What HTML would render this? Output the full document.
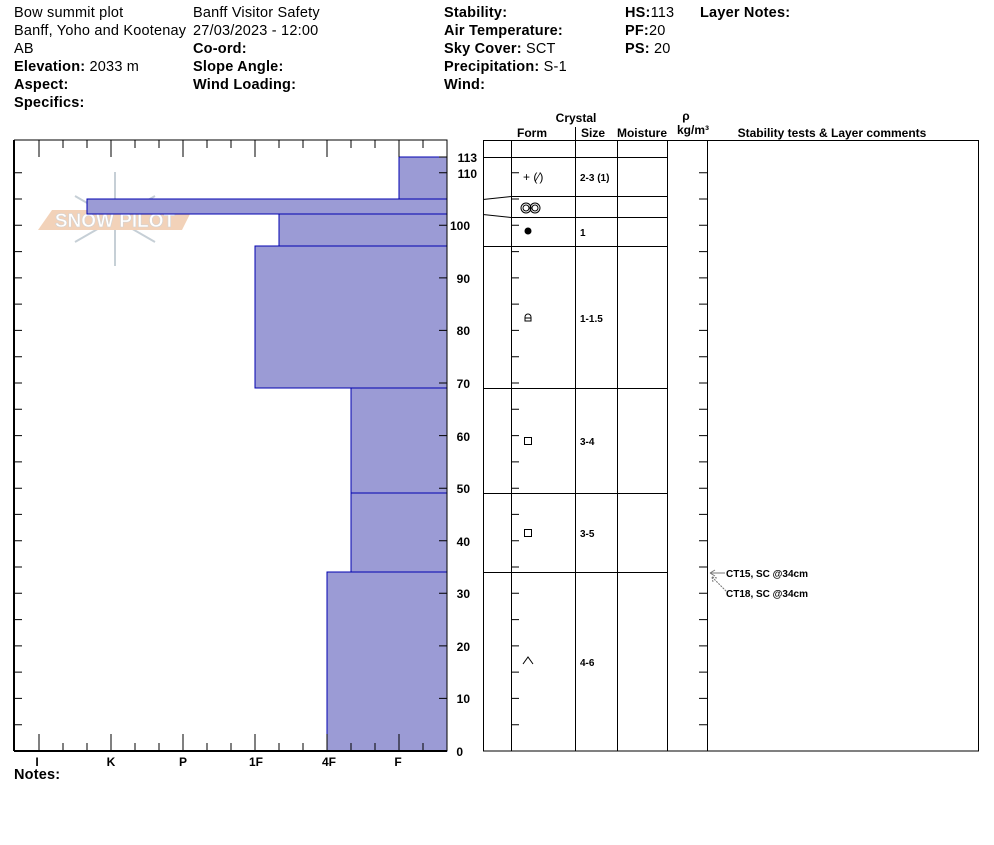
<!DOCTYPE html>
<html><head><meta charset="utf-8"><style>
body{margin:0;background:#fff;}
svg text{font-family:"Liberation Sans",Arial,sans-serif;}
.b{font-weight:bold}
</style></head><body>
<svg width="994" height="840" viewBox="0 0 994 840" xmlns="http://www.w3.org/2000/svg">
<g font-size="14.5" fill="#000" letter-spacing="0.2">
<text x="14" y="17">Bow summit plot</text>
<text x="14" y="35">Banff, Yoho and Kootenay</text>
<text x="14" y="53">AB</text>
<text x="14" y="71"><tspan class="b">Elevation:</tspan> 2033 m</text>
<text x="14" y="89" class="b">Aspect:</text>
<text x="14" y="107" class="b">Specifics:</text>
<text x="193" y="17">Banff  Visitor Safety</text>
<text x="193" y="35">27/03/2023 - 12:00</text>
<text x="193" y="53" class="b">Co-ord:</text>
<text x="193" y="71" class="b">Slope Angle:</text>
<text x="193" y="89" class="b">Wind Loading:</text>
<text x="444" y="17" class="b">Stability:</text>
<text x="444" y="35" class="b">Air Temperature:</text>
<text x="444" y="53"><tspan class="b">Sky Cover:</tspan> SCT</text>
<text x="444" y="71"><tspan class="b">Precipitation:</tspan> S-1</text>
<text x="444" y="89" class="b">Wind:</text>
<text x="625" y="17"><tspan class="b">HS:</tspan>113</text>
<text x="625" y="35"><tspan class="b">PF:</tspan>20</text>
<text x="625" y="53"><tspan class="b">PS:</tspan> 20</text>
<text x="700" y="17" class="b">Layer Notes:</text>
<text x="14" y="779" class="b">Notes:</text>
</g>
<!-- watermark -->
<g opacity="0.8">
<g stroke="#b8c4cc" stroke-width="2" fill="none">
<line x1="115" y1="172" x2="115" y2="266"/>
<line x1="75" y1="196" x2="155" y2="242"/>
<line x1="75" y1="242" x2="155" y2="196"/>
</g>
<polygon points="52,210 192,210 182,230 38,230" fill="#f0c8a8"/>
<text x="115" y="227" font-size="19" text-anchor="middle" fill="#fff" stroke="#c8c8c8" stroke-width="0.6" font-weight="bold">SNOW PILOT</text>
</g>
<!-- bars -->
<g fill="#9b9bd5" stroke="#0000b0" stroke-width="1">
<rect x="399" y="157" width="48" height="42"/>
<rect x="87" y="199" width="360" height="15"/>
<rect x="279" y="214" width="168" height="32"/>
<rect x="255" y="246" width="192" height="142"/>
<rect x="351" y="388" width="96" height="105"/>
<rect x="351" y="493" width="96" height="79"/>
<rect x="327" y="572" width="120" height="179"/>
</g>
<!-- left chart frame & ticks -->
<g stroke="#000" stroke-width="1" fill="none">
<polyline points="14,140 447,140 447,751"/>
<line x1="14" y1="140" x2="14" y2="751" stroke-width="2"/>
<line x1="14" y1="751" x2="447" y2="751" stroke-width="2"/>
<path d="M39,140v17M111,140v17M183,140v17M255,140v17M327,140v17M399,140v17
M63,140v8M87,140v8M135,140v8M159,140v8M207,140v8M231,140v8M279,140v8M303,140v8M351,140v8M375,140v8M423,140v8
M39,751v-17M111,751v-17M183,751v-17M255,751v-17M327,751v-17M399,751v-17
M63,751v-8M87,751v-8M135,751v-8M159,751v-8M207,751v-8M231,751v-8M279,751v-8M303,751v-8M351,751v-8M375,751v-8M423,751v-8"/>
<path d="M14,724.7h8M14,698.4h8M14,672.1h8M14,645.9h8M14,619.6h8M14,593.3h8M14,567h8M14,540.7h8M14,514.4h8M14,488.2h8M14,461.9h8M14,435.6h8M14,409.3h8M14,383h8M14,356.7h8M14,330.4h8M14,304.1h8M14,277.9h8M14,251.6h8M14,225.3h8M14,199h8M14,172.7h8
M439,698.4h8M439,645.9h8M439,593.3h8M439,540.7h8M439,488.2h8M439,435.6h8M439,383h8M439,330.4h8M439,277.9h8M439,225.3h8M439,172.7h8M439,157h8"/>
</g>
<g font-size="12" font-weight="bold" text-anchor="middle">
<text x="37" y="766">I</text><text x="111" y="766">K</text><text x="183" y="766">P</text>
<text x="256" y="766">1F</text><text x="329" y="766">4F</text><text x="398" y="766">F</text>
</g>
<g font-size="12" font-weight="bold" text-anchor="end">
<text x="477" y="162">113</text><text x="477" y="178">110</text><text x="470" y="230">100</text>
<text x="470" y="283">90</text><text x="470" y="335">80</text><text x="470" y="388">70</text>
<text x="470" y="441">60</text><text x="470" y="493">50</text><text x="470" y="546">40</text>
<text x="470" y="598">30</text><text x="470" y="651">20</text><text x="470" y="703">10</text>
<text x="463" y="756">0</text>
</g>
<!-- right table -->
<g font-size="12" font-weight="bold" text-anchor="middle">
<text x="576" y="122">Crystal</text>
<text x="532" y="137">Form</text><text x="593" y="137">Size</text><text x="642" y="137">Moisture</text>
<text x="686" y="120">ρ</text><text x="693" y="134">kg/m³</text>
<text x="832" y="137">Stability tests &amp; Layer comments</text>
</g>
<g stroke="#000" stroke-width="1" fill="none">
<rect x="483.5" y="140.5" width="495" height="610.5"/>
<path d="M511.5,140v611M575.5,127v624M617.5,140v611M667.5,140v611M707.5,140v611"/>
<path d="M483,157.5h184M511,196.5h156M511,217.5h156M483,246.5h184M483,388.5h184M483,493.5h184M483,572.5h184"/>
<path d="M483,199.5L511,196.5M483,214.5L511,217.5"/>
<path d="M511,724.7h8M511,698.4h8M511,672.1h8M511,645.9h8M511,619.6h8M511,593.3h8M511,567h8M511,540.7h8M511,514.4h8M511,488.2h8M511,461.9h8M511,435.6h8M511,409.3h8M511,383h8M511,356.7h8M511,330.4h8M511,304.1h8M511,277.9h8M511,251.6h8M511,225.3h8M511,199h8M511,172.7h8
M707,724.7h-8M707,698.4h-8M707,672.1h-8M707,645.9h-8M707,619.6h-8M707,593.3h-8M707,567h-8M707,540.7h-8M707,514.4h-8M707,488.2h-8M707,461.9h-8M707,435.6h-8M707,409.3h-8M707,383h-8M707,356.7h-8M707,330.4h-8M707,304.1h-8M707,277.9h-8M707,251.6h-8M707,225.3h-8M707,199h-8M707,172.7h-8"/>
</g>
<g stroke="#777" stroke-width="1" fill="none">
<path d="M710,573h15M710,573l5,-3M710,573l5,3"/>
<path d="M712,577L727,592M712,577l1,5M712,577l5,1" stroke-dasharray="2,1"/>
</g>
<g font-size="10" font-weight="bold">
<text x="726" y="577">CT15, SC @34cm</text>
<text x="726" y="597">CT18, SC @34cm</text>
<text x="580" y="181">2-3 (1)</text>
<text x="580" y="236">1</text>
<text x="580" y="322">1-1.5</text>
<text x="580" y="445">3-4</text>
<text x="580" y="537">3-5</text>
<text x="580" y="666">4-6</text>
</g>
<g font-size="12">
<text x="523" y="181">+ (⁄)</text>
</g>
<g stroke="#000" fill="none" stroke-width="1">
<circle cx="526" cy="208" r="5"/><circle cx="535" cy="208" r="5"/>
<circle cx="526" cy="208" r="3"/><circle cx="535" cy="208" r="3"/>
<rect x="524.5" y="437.5" width="7" height="7"/>
<rect x="524.5" y="529.5" width="7" height="7"/>
<path d="M523,664l5,-7l5,7"/>
<path d="M525,321v-4a3,3 0 0 1 6,0v4zM525,318h6"/>
</g>
<circle cx="528" cy="231" r="3.5" fill="#000"/>
</svg>
</body></html>
